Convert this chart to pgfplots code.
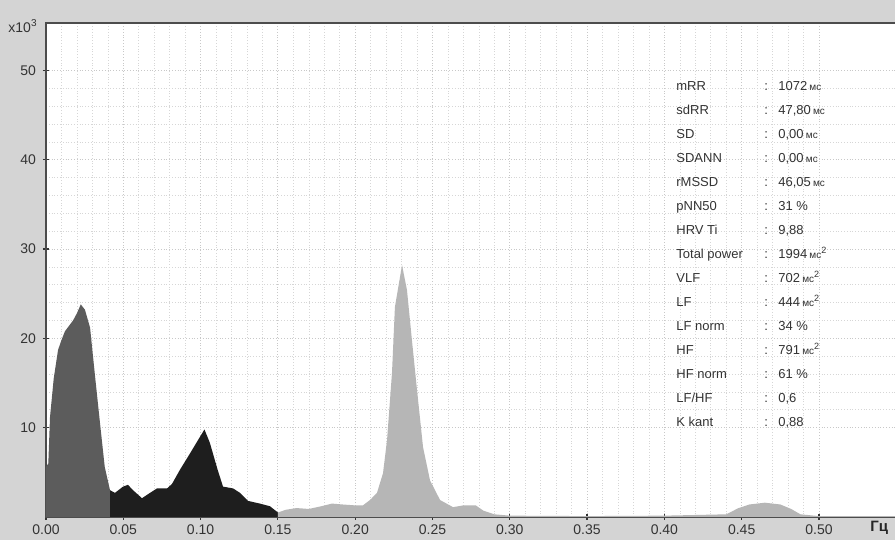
\documentclass[border=0pt]{standalone}
\usepackage{fontspec}
\setmainfont{Liberation Sans}
\usepackage{pgfplots}
\pgfplotsset{compat=1.18}

\definecolor{bg}{RGB}{212,212,212}
\definecolor{vlf}{RGB}{92,92,92}
\definecolor{lf}{RGB}{30,30,30}
\definecolor{hf}{RGB}{182,182,182}
\definecolor{gridc}{RGB}{200,200,200}

\newcommand\ms{\,{\fontsize{5}{6}\selectfont мс}}
\newcommand\mss{\ms\textsuperscript{2}}
\newcommand\lfhf{LF/HF}

\pgfplotstableread{
f p
0.0000 5.6
0.0015 6.0
0.0026 11.2
0.0050 15.5
0.0078 18.7
0.0100 19.8
0.0123 20.8
0.0175 22.0
0.0200 22.8
0.0225 23.8
0.0252 23.2
0.0285 21.2
0.0317 15.8
0.0350 10.4
0.0380 5.6
0.0414 3.0
}\vlfdata

\pgfplotstableread{
f p
0.0414 3.0
0.0446 2.7
0.0498 3.4
0.0530 3.6
0.0563 3.0
0.0621 2.1
0.0673 2.7
0.0718 3.2
0.0783 3.2
0.0815 3.7
0.0867 5.3
0.0931 7.1
0.0983 8.6
0.1025 9.8
0.1060 8.3
0.1110 5.3
0.1145 3.4
0.1210 3.2
0.1255 2.7
0.1307 1.8
0.1384 1.5
0.1449 1.2
0.1500 0.5
}\lfdata

\pgfplotstableread{
f p
0.1500 0.5
0.1550 0.8
0.1620 1.0
0.1700 0.9
0.1780 1.2
0.1850 1.5
0.1920 1.4
0.2000 1.3
0.2050 1.3
0.2096 1.9
0.2141 2.7
0.2180 4.9
0.2206 8.6
0.2238 16.1
0.2257 23.5
0.2303 28.2
0.2335 25.4
0.2367 19.8
0.2400 14.2
0.2439 7.8
0.2484 4.1
0.2549 1.9
0.2633 1.1
0.2700 1.3
0.2780 1.3
0.2830 0.7
0.2900 0.3
0.3000 0.15
0.3500 0.1
0.4000 0.15
0.4400 0.3
0.4480 1.0
0.4550 1.4
0.4650 1.6
0.4750 1.4
0.4820 0.9
0.4880 0.3
0.5000 0.1
0.5563 0.1
}\hfdata

\begin{document}
\begin{tikzpicture}
\fill[bg] (-23pt,-11.5pt) rectangle (424.5pt,258.5pt);
\useasboundingbox (-23pt,-11.5pt) rectangle (424.5pt,258.5pt);
\begin{axis}[
  scale only axis, width=430pt, height=247pt,
  xmin=0, xmax=0.5563, ymin=0, ymax=55.3,
  axis background/.style={fill=white},
  axis line style={draw=black!70, line width=0.8pt},
  xtick={0,0.05,...,0.5}, ytick={10,20,30,40,50},
  minor x tick num=4, minor y tick num=4,
  grid=both,
  major grid style={gridc, densely dotted, line width=0.4pt},
  minor grid style={gridc!75, densely dotted, line width=0.3pt},
  tick align=center, major tick length=3pt, minor tick length=0pt,
  tick style={black!80, line width=0.6pt},
  xtick pos=bottom, ytick pos=left,
  ticklabel style={font=\fontsize{7}{8}\selectfont, text=black!80},
  xticklabel style={yshift=1pt},
  /pgf/number format/assume math mode=true,
  x tick label style={/pgf/number format/.cd, fixed, fixed zerofill, precision=2},
  clip=true,
]
\addplot[fill=vlf, draw=none] table[x=f, y=p] {\vlfdata} \closedcycle;
\addplot[fill=lf, draw=none] table[x=f, y=p] {\lfdata} \closedcycle;
\addplot[fill=hf, draw=none] table[x=f, y=p] {\hfdata} \closedcycle;
\end{axis}
\node[anchor=north east, font=\fontsize{7}{8}\selectfont, text=black!80, inner sep=0pt] at (-4pt,249pt) {x10\textsuperscript{3}};
\node[anchor=north west, font=\bfseries\fontsize{7.5}{8}\selectfont, text=black!85, inner sep=0pt] at (412pt,-2pt) {Гц};
\foreach \lab/\val [count=\i] in {mRR/{1072\ms}, sdRR/{47,80\ms}, SD/{0,00\ms}, SDANN/{0,00\ms}, rMSSD/{46,05\ms}, pNN50/{31 \%}, HRV Ti/{9,88}, Total power/{1994\mss}, VLF/{702\mss}, LF/{444\mss}, LF norm/{34 \%}, HF/{791\mss}, HF norm/{61 \%}, \lfhf/{0,6}, K kant/{0,88}}{
  \node[anchor=base west, font=\fontsize{6.5}{8}\selectfont, text=black!80, inner sep=0pt] at (315pt,{213pt-(\i-1)*12pt}) {\lab};
  \node[anchor=base west, font=\fontsize{6.5}{8}\selectfont, text=black!80, inner sep=0pt] at (359pt,{213pt-(\i-1)*12pt}) {:};
  \node[anchor=base west, font=\fontsize{6.5}{8}\selectfont, text=black!80, inner sep=0pt] at (366pt,{213pt-(\i-1)*12pt}) {\val};
}
\end{tikzpicture}
\end{document}
